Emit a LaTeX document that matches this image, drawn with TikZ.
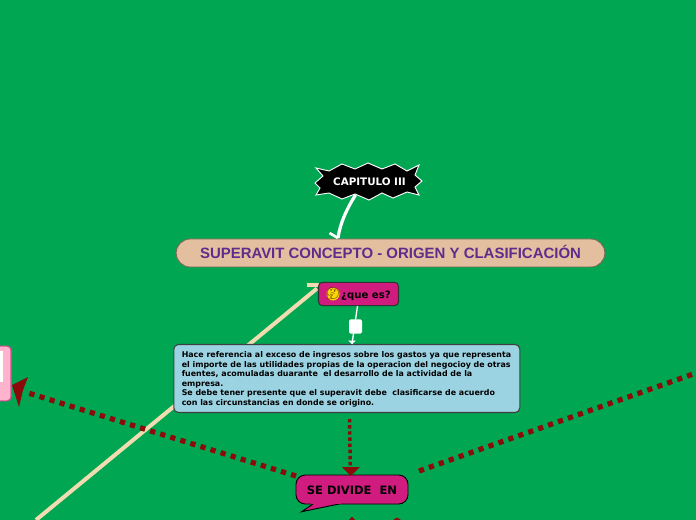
\documentclass[tikz,border=0pt]{standalone}
\usepackage{fontspec}
\setmainfont{DejaVu Sans}
\newfontfamily\titlefont{Liberation Sans}
\newfontfamily\emojifont{Noto Emoji}
\usetikzlibrary{arrows.meta}
\definecolor{bgG}{HTML}{00A651}
\definecolor{mag}{HTML}{D01C7F}
\definecolor{tan}{HTML}{E3BFA0}
\definecolor{lblue}{HTML}{9BD3E3}
\definecolor{dred}{HTML}{8B0A0A}
\definecolor{cream}{HTML}{F0DCB0}
\definecolor{pinkb}{HTML}{FFB3CC}
\definecolor{purp}{HTML}{5F2C8C}
\tikzset{
  magbox/.style={draw=black!80,line width=0.8pt,fill=mag,rounded corners=3pt,inner sep=0pt},
  dotline/.style={draw=dred,line width=3.9pt,dash pattern=on 3.9pt off 4pt},
  dotthin/.style={draw=dred,line width=2.6pt,dash pattern=on 2.6pt off 2pt},
  headfill/.style={fill=dred,draw=none}
}
\begin{document}
\begin{tikzpicture}[x=0.75pt,y=-0.75pt]
\useasboundingbox (0,0) rectangle (696,520);
\fill[bgG] (0,0) rectangle (696,520);
% free connector ends
\coordinate (creamEnd) at (36,520);
\coordinate (creamTop) at (317,288.5);
\coordinate (rightEnd) at (696,373);
% cream line
\draw[cream,line width=3pt] (creamEnd) -- (creamTop);
\draw[cream,line width=3pt] (307,285.5) -- (319,285.5);
% capitulo
\filldraw[fill=black,draw=white,line width=0.7pt]
 (315,183) -- (323,176) -- (316,168) -- (329,171) -- (342,164) -- (355,169) -- (368,163) -- (382,169) -- (395,164) -- (407,171) -- (419,165) -- (415,175) -- (422,181) -- (415,187) -- (419,195) -- (407,192) -- (393,198) -- (382,193) -- (369,200) -- (355,194) -- (342,199) -- (329,193) -- (316,195) -- (320,188) -- cycle;
\node[font=\bfseries\fontsize{7.75pt}{9pt}\selectfont,text=white,inner sep=0pt] (cap) at (369.5,181.7) {CAPITULO III};
% title
\node[draw=black!45!tan,line width=0.7pt,fill=tan,rounded corners=10.4pt,minimum width=321.5pt,minimum height=21pt,inner sep=0pt] (title) at (390.5,253) {};
\node[font=\titlefont\bfseries\fontsize{11.22pt}{13pt}\selectfont,text=purp,inner sep=0pt] at (390.5,252.3) {SUPERAVIT CONCEPTO - ORIGEN Y CLASIFICACIÓN};
% capitulo to title
\coordinate (capFoot) at (355.5,195);
\coordinate (titleTop) at (338,238);
\draw[white,line width=2.4pt] (capFoot) .. controls (346,210) and (340,224) .. (titleTop);
\draw[white,line width=2pt] (329.5,233) -- (titleTop);
% que es
\node[magbox,minimum width=60pt,minimum height=17.5pt] (que) at (358.5,294) {};
\fill[yellow!75!orange] (333,294) circle (6.5);
\node[font=\emojifont\fontsize{8.6pt}{9pt}\selectfont,text=black!70!orange,inner sep=0pt] at (333,294) {🤔};
\node[font=\bfseries\fontsize{7.6pt}{9pt}\selectfont,inner sep=0pt] at (366,295.3) {¿que es?};
% blue box
\node[draw=black!75,line width=0.8pt,fill=lblue,rounded corners=3.5pt,minimum width=259.5pt,minimum height=51pt,inner sep=0pt] (desc) at (346.8,378.5) {};
\node[anchor=north west,align=left,font=\bfseries\fontsize{5.93pt}{7.2pt}\selectfont,inner sep=0pt] at (181.5,351.2) {Hace referencia al exceso de ingresos sobre los gastos ya que representa\\el importe de las utilidades propias de la operacion del negocioy de otras\\fuentes, acomuladas duarante\ \ el desarrollo de la actividad de la\\empresa.\\Se debe tener presente que el superavit debe\ \ clasificarse de acuerdo\\con las circunstancias en donde se origino.};
% que to desc
\draw[white,line width=1pt] (357.5,306) -- (352,344);
\fill[white,rounded corners=1pt] (349,319.5) rectangle (362,333.5);
\fill[white] (348,340.5) -- (356,340.5) -- (352,344) -- cycle;
% se divide
\node[draw=black,line width=0.7pt,fill=mag,rounded corners=7pt,minimum width=84pt,minimum height=21.75pt,inner sep=0pt] (div) at (352,489.5) {};
\filldraw[fill=mag,draw=black,line width=0.7pt] (313,504) -- (301.7,511.7) -- (339,504);
\fill[mag] (311,502) rectangle (341,504.4);
\node[font=\bfseries\fontsize{8.65pt}{10pt}\selectfont,inner sep=0pt] at (352,490) {SE DIVIDE\ \ EN};
% desc to div
\draw[dotthin] (349.5,419) -- (350.3,467);
\fill[headfill] (342,467) -- (360,467) -- (350.7,476) -- cycle;
% div to left
\draw[dotline] (296,476) -- (25,392);
\fill[headfill] (28,377) -- (12,385) -- (19,407) -- (23,390) -- cycle;
% div to right
\draw[dotline] (419,471) -- (rightEnd);
% pink node
\node[draw=mag!70!pinkb,line width=0.8pt,fill=pinkb,rounded corners=3pt,minimum width=12.75pt,minimum height=41pt,inner sep=0pt] (pink) at (2.5,373.5) {};
\fill[white] (0,351) rectangle (3,382);
% bottom arrow tips
\fill[headfill] (349,520) -- (352,516.5) -- (355,520) -- cycle;
\fill[headfill] (393,520) -- (397,517.5) -- (401,520) -- cycle;
\end{tikzpicture}
\end{document}
